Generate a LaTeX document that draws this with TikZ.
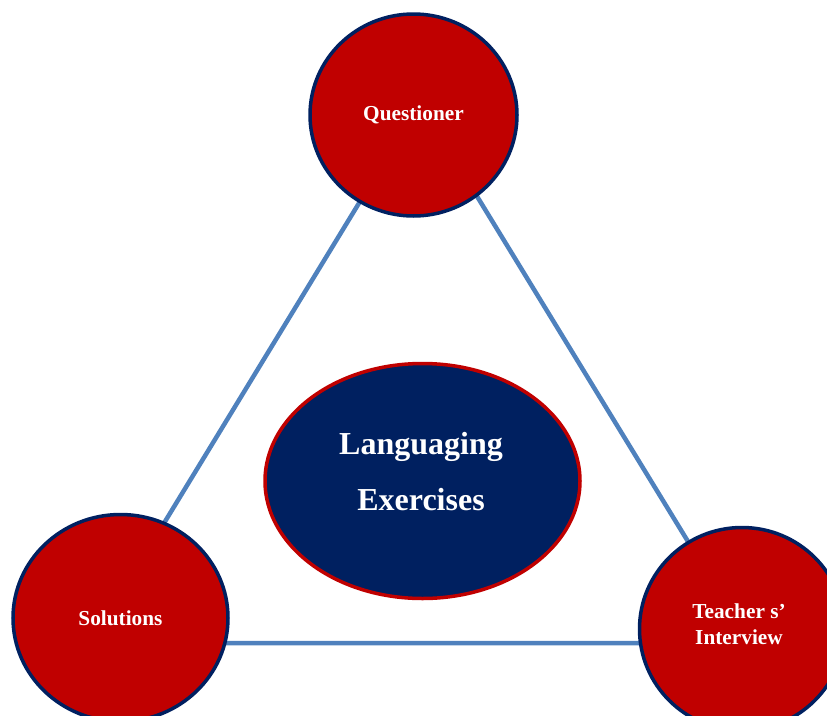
\documentclass[tikz,border=0pt]{standalone}
\usepackage{fontspec}
\setmainfont{Liberation Serif}
\usetikzlibrary{shapes.geometric}
\definecolor{cred}{HTML}{C00000}
\definecolor{cnavy}{HTML}{002060}
\definecolor{cline}{HTML}{4F81BD}
\tikzset{
  rolecircle/.style={ellipse, fill=cred, draw=cnavy, line width=3.5pt, text=white,
    font=\bfseries\fontsize{21.3}{26}\selectfont, align=center, inner sep=0pt},
  core/.style={ellipse, fill=cnavy, draw=cred, line width=3.5pt, text=white,
    font=\bfseries\fontsize{32}{56}\selectfont, align=center, inner sep=0pt,
    minimum width=315pt, minimum height=235pt},
  link/.style={draw=cline, line width=4.5pt}
}
\begin{document}
\begin{tikzpicture}[x=1pt,y=-1pt]
\useasboundingbox (0,0) rectangle (827,715);
\coordinate (apex) at (420,103);
\coordinate (lv) at (91,643);
\coordinate (rv) at (750,643);
\draw[link] (apex) -- (lv) -- (rv) -- cycle;
\node[rolecircle, minimum width=207pt, minimum height=202pt] (q) at (413.5,115) {Questioner};
\node[rolecircle, minimum width=215pt, minimum height=207pt] (s) at (120.5,618) {Solutions};
\node[rolecircle, minimum width=205pt, minimum height=203pt] (t) at (742,629) {};
\node[text=white, font=\bfseries\fontsize{21.3}{26}\selectfont, align=center] (tl) at (739,624) {Teacher s’\\Interview};
\node[core] (c) at (422.5,481) {};
\node[text=white, font=\bfseries\fontsize{32}{56}\selectfont, align=center] (cl) at (421,472) {Languaging\\Exercises};
\end{tikzpicture}
\end{document}
